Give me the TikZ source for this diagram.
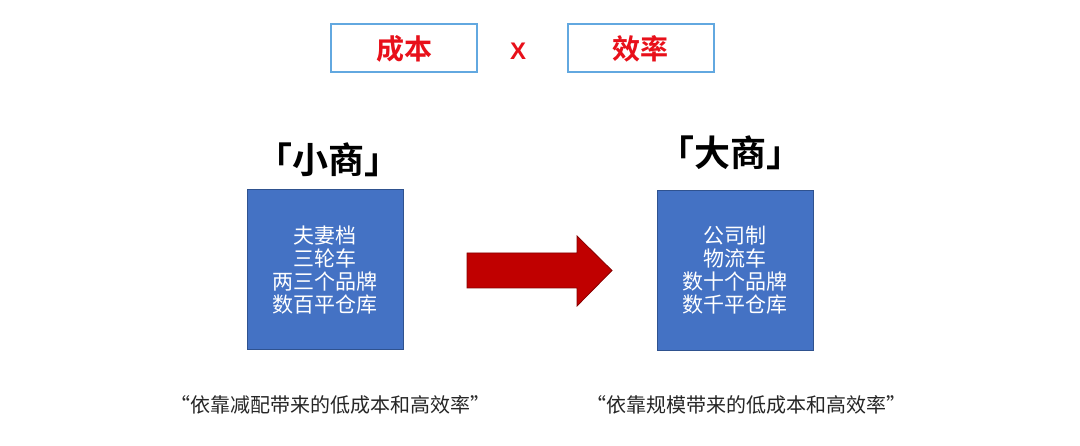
\documentclass[tikz,border=0pt]{standalone}
\usepackage{fontspec}
\setmainfont{Noto Sans CJK SC}
\newfontfamily\cjkb{Noto Sans CJK SC Bold}
\newfontfamily\arialb{Liberation Sans Bold}
\usetikzlibrary{shapes.arrows}
\definecolor{boxblue}{HTML}{4472C4}
\definecolor{boxedge}{HTML}{2F528F}
\definecolor{arrred}{HTML}{C00000}
\definecolor{topedge}{HTML}{62A8E0}
\definecolor{titlered}{HTML}{E8101A}
\begin{document}
\begin{tikzpicture}[x=1pt,y=-1pt,
  topbox/.style={draw=topedge,line width=2pt,fill=white,minimum width=146pt,minimum height=48pt,inner sep=0pt,font=\cjkb\fontsize{28}{30}\selectfont,text=titlered},
  heading/.style={font=\cjkb\fontsize{36}{40}\selectfont,text=black,inner sep=0pt},
  bluebox/.style={draw=boxedge,line width=1pt,fill=boxblue,minimum width=156pt,minimum height=160pt,inner sep=0pt,text=white,align=center,font=\fontsize{21}{23}\selectfont},
  caption/.style={font=\fontsize{20}{22}\selectfont,text=black!85,inner sep=0pt}]
\useasboundingbox (0,0) rectangle (1080,446);
\fill[white] (0,0) rectangle (1080,446);
\node[topbox] (cost) at (404,48.5) {成本};
\node[font=\arialb\fontsize{24}{26}\selectfont,text=titlered,inner sep=0pt] (times) at (518,51) {X};
\node[topbox] (eff) at (640.5,48.5) {效率};
\node[heading] (small) at (328,160) {「小商」};
\node[heading] (big) at (730,153) {「大商」};
\node[bluebox] (sbox) at (325,270) {夫妻档\\三轮车\\两三个品牌\\数百平仓库};
\node[bluebox] (bbox) at (735,270.5) {公司制\\物流车\\数十个品牌\\数千平仓库};
\fill[arrred] (467,253) -- (577,253) -- (577,236) -- (612,270.5) -- (577,306) -- (577,288) -- (467,288) -- cycle;
\draw[arrred!70!black,line width=0.8pt] (467,253) -- (577,253) -- (577,236) -- (612,270.5) -- (577,306) -- (577,288) -- (467,288) -- cycle;
\node[caption] (scap) at (330,405) {“依靠减配带来的低成本和高效率”};
\node[caption] (bcap) at (746,405) {“依靠规模带来的低成本和高效率”};
\end{tikzpicture}
\end{document}
